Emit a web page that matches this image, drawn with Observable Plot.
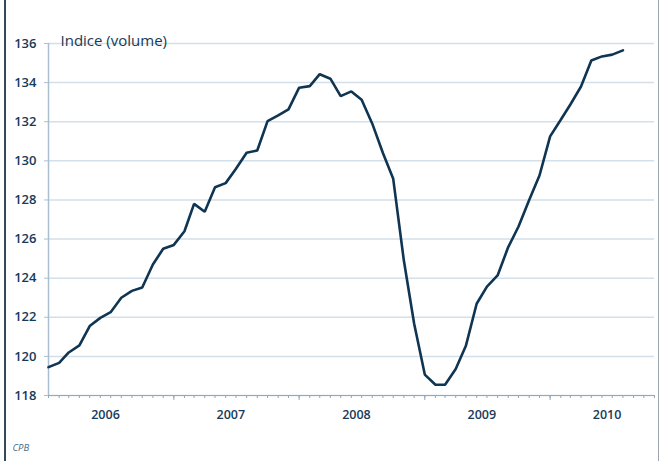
<!DOCTYPE html>
<html>
<head>
<meta charset="utf-8">
<script src="https://cdn.jsdelivr.net/npm/d3@7"></script>
<script src="https://cdn.jsdelivr.net/npm/@observablehq/plot@0.6"></script>
<style>
  html, body { margin: 0; padding: 0; background: #fff; }
  #wrap { position: relative; width: 660px; height: 461px; overflow: hidden; }
  #wrap svg { position: absolute; left: 0; top: 0; }
  .bl { position: absolute; top: 0; bottom: 0; left: 4px; width: 2px; background: #34495c; }
  .br { position: absolute; top: 0; bottom: 0; left: 658px; width: 1px; background: #9aa6b2; }
</style>
</head>
<body>
<div id="wrap"><div class="bl"></div><div class="br"></div></div>
<script>
// Monthly volume index, Jan 2006 .. Aug 2010
const startMonth = "2006-01-01";
const values = [
  119.45, 119.67, 120.2, 120.56, 121.55, 121.97, 122.26, 123.0, 123.35, 123.52, 124.7, 125.5,
  125.7, 126.4, 127.8, 127.4, 128.65, 128.86, 129.6, 130.41, 130.53, 132.03, 132.32, 132.63,
  133.74, 133.82, 134.43, 134.2, 133.31, 133.55, 133.12, 131.9, 130.4, 129.08, 124.9, 121.67,
  119.07, 118.55, 118.55, 119.36, 120.56, 122.69, 123.57, 124.14, 125.59, 126.64, 128.0, 129.25,
  131.25, 132.1, 132.88, 133.8, 135.13, 135.34, 135.43, 135.65
];
const years = [2006, 2007, 2008, 2009, 2010];
const yTicks = [118, 120, 122, 124, 126, 128, 130, 132, 134, 136];
const yDomain = [118, 136];
const xDomainEnd = "2010-11-01";
const title = "Indice (volume)";
const source = "CPB";

const t0 = new Date(startMonth);
const data = values.map((v, i) => ({ date: d3.utcMonth.offset(t0, i), value: v }));
const xDomain = [t0, new Date(xDomainEnd)];
const monthTicks = d3.utcMonth.range(xDomain[0], d3.utcMonth.offset(xDomain[1], 1));
const yearTicks = years.map(y => new Date(Date.UTC(y, 0, 1))).filter(d => d > t0);
const yearLabels = years.map(y => ({ date: new Date(Date.UTC(y, 5, 16)), label: String(y) }));

const navy = "#173a57";
const font = "'Open Sans', 'Noto Sans', sans-serif";

const chart = Plot.plot({
  width: 660,
  height: 461,
  marginLeft: 48,
  marginRight: 6,
  marginTop: 43,
  marginBottom: 66,
  style: { fontFamily: font, background: "transparent", overflow: "visible" },
  x: { type: "utc", domain: xDomain },
  y: { domain: yDomain },
  marks: [
    Plot.gridY(yTicks, { stroke: "#d3dfe9", strokeOpacity: 1, strokeWidth: 1.5 }),
    Plot.ruleX([t0], { y1: yDomain[0], y2: yDomain[1], stroke: "#a9bfd1", strokeWidth: 1.5 }),
    Plot.ruleY([yDomain[0]], { stroke: "#8fa9bf", strokeWidth: 1.2 }),
    Plot.axisY(yTicks, {
      tickSize: 4, tickPadding: 8, stroke: "#a9bfd1", color: navy,
      fontSize: 13, fontWeight: 600, tickFormat: d => String(d), label: null
    }),
    Plot.axisX(monthTicks, { tickSize: 3, tickFormat: () => "", stroke: "#8fa9bf", label: null }),
    Plot.axisX(yearTicks, { tickSize: 5, tickFormat: () => "", stroke: "#8fa9bf", label: null }),
    Plot.text(yearLabels, {
      x: "date", text: "label", frameAnchor: "bottom", dy: 23,
      fill: navy, fontSize: 12.5, fontWeight: 600
    }),
    Plot.lineY(data, { x: "date", y: "value", stroke: "#0f3552", strokeWidth: 2.6, strokeLinejoin: "miter" }),
    Plot.text([title], {
      frameAnchor: "top-left", dx: 12, dy: -2, fill: navy, fontSize: 15, lineAnchor: "middle"
    }),
    Plot.text([source], {
      frameAnchor: "bottom-left", dx: -36, dy: 55, fill: "#4a6a86",
      fontSize: 9.5, fontStyle: "italic", textAnchor: "start"
    })
  ]
});
document.getElementById("wrap").appendChild(chart);
</script>
</body>
</html>
